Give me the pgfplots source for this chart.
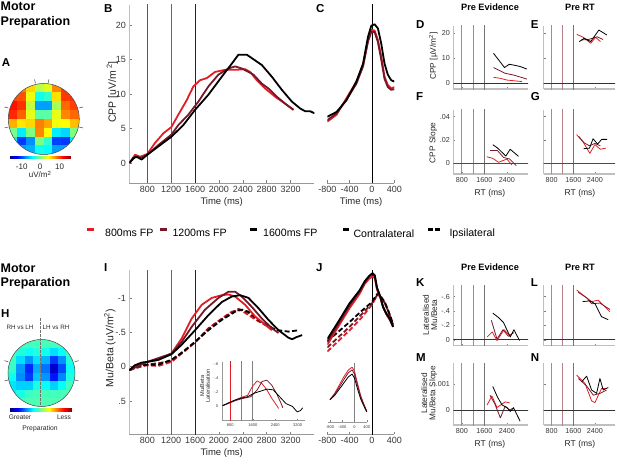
\documentclass[border=0pt]{standalone}
\usepackage{fontspec}
\setmainfont{Liberation Sans}
\usepackage{pgfplots}
\pgfplotsset{compat=1.18}
\definecolor{cR}{RGB}{226,30,36}
\definecolor{cM}{RGB}{118,24,42}
\definecolor{tk}{RGB}{55,55,55}
\newcommand{\fs}[1]{\fontsize{#1}{#1}\selectfont}
\pgfplotsset{
  mat/.style={scale only axis, anchor=north west, clip=true,
    axis x line*=bottom, axis y line*=left,
    axis line style={-, draw=black!40, line width=0.6pt},
    y axis line style={draw=black!25},
    tick style={draw=black!50, line width=0.5pt},
    tick align=inside, major tick length=2.5pt,
    /pgf/number format/assume math mode=true,
    /pgf/number format/1000 sep={},
    scaled ticks=false},
  big/.style={mat, tick label style={font=\fs{9}, text=tk}},
  small/.style={mat, tick label style={font=\fs{7.2}, text=tk},
    x axis line style={draw=black!25, line width=1.6pt},
    xmin=500, xmax=3150, xtick={800,1600,2400}, major tick length=2pt},
  tiny/.style={mat, tick label style={font=\fs{4}, text=tk}, major tick length=1.3pt,
    axis line style={-, draw=black!40, line width=0.4pt}},
  s/.style={line width=1.8pt, line join=round},
  d/.style={line width=1.8pt, line join=round, dash pattern=on 5pt off 2.5pt},
  t/.style={line width=0.8pt, line join=round},
  e8/.style={color=cR, line width=1.1pt},
  e12/.style={color=cM!75!white, line width=1.1pt},
  e16/.style={color=black!85, line width=0.9pt},
  f8/.style={color=cR!65!white, line width=0.9pt},
  f12/.style={color=cM!55!white, line width=0.9pt},
  f16/.style={color=black!55, line width=0.9pt},
  topo/.style={anchor=north west, scale only axis, hide axis,
    xmin=-1, xmax=1, ymin=-1, ymax=1, colormap/jet},
  cbar/.style={anchor=north west, scale only axis, hide axis, view={0}{90}, colormap/jet},
}
\begin{document}
\begin{tikzpicture}[x=1pt,y=1pt]
\path[use as bounding box] (0,0) rectangle (617,463);

% ---------- A topo ----------
\begin{axis}[topo, at={(8.3pt,379.5pt)}, width=71pt, height=71pt, point meta min=-16, point meta max=16]
\addplot[surf, shader=flat mean, mesh/cols=9, point meta=\thisrow{c}] table[row sep=\\] {
x y c\\
-1 1 6\\ -0.75 1 7\\ -0.5 1 7\\ -0.25 1 4\\ 0 1 3\\ 0.25 1 6\\ 0.5 1 9\\ 0.75 1 10\\ 1 1 10\\
-1 0.75 8\\ -0.75 0.75 9\\ -0.5 0.75 8\\ -0.25 0.75 2\\ 0 0.75 -2\\ 0.25 0.75 5\\ 0.5 0.75 11\\ 0.75 0.75 11\\ 1 0.75 10\\
-1 0.5 10\\ -0.75 0.5 12\\ -0.5 0.5 9\\ -0.25 0.5 -5\\ 0 0.5 -9\\ 0.25 0.5 -4\\ 0.5 0.5 8\\ 0.75 0.5 11\\ 1 0.5 10\\
-1 0.25 11\\ -0.75 0.25 13\\ -0.5 0.25 8\\ -0.25 0.25 -4\\ 0 0.25 -10\\ 0.25 0.25 -5\\ 0.5 0.25 6\\ 0.75 0.25 10\\ 1 0.25 9\\
-1 0 9\\ -0.75 0 10\\ -0.5 0 5\\ -0.25 0 4\\ 0 0 5\\ 0.25 0 5\\ 0.5 0 7\\ 0.75 0 8\\ 1 0 8\\
-1 -0.25 4\\ -0.75 -0.25 3\\ -0.5 -0.25 1\\ -0.25 -0.25 11\\ 0 -0.25 12\\ 0.25 -0.25 5\\ 0.5 -0.25 -2\\ 0.75 -0.25 3\\ 1 -0.25 5\\
-1 -0.5 0\\ -0.75 -0.5 -8\\ -0.5 -0.5 -14\\ -0.25 -0.5 2\\ 0 -0.5 6\\ 0.25 -0.5 -7\\ 0.5 -0.5 -14\\ 0.75 -0.5 -8\\ 1 -0.5 0\\
-1 -0.75 -3\\ -0.75 -0.75 -7\\ -0.5 -0.75 -12\\ -0.25 -0.75 -6\\ 0 -0.75 -2\\ 0.25 -0.75 -7\\ 0.5 -0.75 -12\\ 0.75 -0.75 -7\\ 1 -0.75 -3\\
-1 -1 -4\\ -0.75 -1 -4\\ -0.5 -1 -5\\ -0.25 -1 -3\\ 0 -1 -3\\ 0.25 -1 -4\\ 0.5 -1 -5\\ 0.75 -1 -4\\ 1 -1 -4\\
};
\end{axis}
\fill[white, even odd rule] (0,296) rectangle (95,392) (43.8,344) circle (35.5);
\draw[black!75, line width=0.5pt] (43.8,344) circle (35.5);
\draw[black!75, line width=0.5pt] (35.5,379.6) -- (34.5,383.5) (48,379.6) -- (49,383.5);
\draw[black!75, line width=0.5pt] (8.4,355) -- (4.5,356) (8.4,336) -- (4.5,335) (79.2,355) -- (83.1,356) (79.2,336) -- (83.1,335);
\begin{axis}[cbar, at={(9.3pt,307.3pt)}, width=61.7pt, height=3.3pt, xmin=-16, xmax=16, ymin=0, ymax=1, point meta min=-16, point meta max=16]
\addplot3[surf, shader=interp, mesh/cols=6] coordinates {(-16,0,-16) (-12,0,-12) (-4,0,-4) (4,0,4) (12,0,12) (16,0,16) (-16,1,-16) (-12,1,-12) (-4,1,-4) (4,1,4) (12,1,12) (16,1,16)};
\end{axis}
\node[font=\fs{8}, text=black!85] at (21.7,296.3) {-10};
\node[font=\fs{8}, text=black!85] at (40.2,296.3) {0};
\node[font=\fs{8}, text=black!85] at (59.5,296.3) {10};
\node[font=\fs{8}, text=black!85] at (40.2,288.5) {uV/m\textsuperscript{2}};

% ---------- H topo ----------
\begin{axis}[topo, at={(8pt,123.5pt)}, width=67pt, height=67pt, point meta min=-1, point meta max=1]
\addplot[surf, shader=flat mean, mesh/cols=9, point meta=\thisrow{c}] table[row sep=\\] {
x y c\\
-1 1 -0.1\\ -0.75 1 -0.1\\ -0.5 1 -0.1\\ -0.25 1 -0.1\\ 0 1 -0.1\\ 0.25 1 -0.1\\ 0.5 1 -0.1\\ 0.75 1 -0.1\\ 1 1 -0.1\\
-1 0.75 -0.1\\ -0.75 0.75 -0.1\\ -0.5 0.75 -0.12\\ -0.25 0.75 -0.15\\ 0 0.75 -0.1\\ 0.25 0.75 -0.15\\ 0.5 0.75 -0.15\\ 0.75 0.75 -0.1\\ 1 0.75 -0.1\\
-1 0.5 -0.1\\ -0.75 0.5 -0.15\\ -0.5 0.5 -0.35\\ -0.25 0.5 -0.3\\ 0 0.5 -0.15\\ 0.25 0.5 -0.45\\ 0.5 0.5 -0.5\\ 0.75 0.5 -0.2\\ 1 0.5 -0.1\\
-1 0.25 -0.1\\ -0.75 0.25 -0.15\\ -0.5 0.25 -0.62\\ -0.25 0.25 -0.55\\ 0 0.25 -0.2\\ 0.25 0.25 -0.78\\ 0.5 0.25 -0.82\\ 0.75 0.25 -0.35\\ 1 0.25 -0.1\\
-1 0 -0.15\\ -0.75 0 -0.2\\ -0.5 0 -0.82\\ -0.25 0 -0.7\\ 0 0 -0.2\\ 0.25 0 -0.92\\ 0.5 0 -0.88\\ 0.75 0 -0.35\\ 1 0 -0.1\\
-1 -0.25 -0.3\\ -0.75 -0.25 -0.25\\ -0.5 -0.25 -0.62\\ -0.25 -0.25 -0.4\\ 0 -0.25 -0.15\\ 0.25 -0.25 -0.55\\ 0.5 -0.25 -0.5\\ 0.75 -0.25 -0.2\\ 1 -0.25 -0.1\\
-1 -0.5 -0.35\\ -0.75 -0.5 -0.3\\ -0.5 -0.5 -0.2\\ -0.25 -0.5 -0.15\\ 0 -0.5 -0.1\\ 0.25 -0.5 -0.15\\ 0.5 -0.5 -0.15\\ 0.75 -0.5 -0.1\\ 1 -0.5 -0.1\\
-1 -0.75 -0.3\\ -0.75 -0.75 -0.2\\ -0.5 -0.75 -0.1\\ -0.25 -0.75 -0.1\\ 0 -0.75 -0.1\\ 0.25 -0.75 -0.1\\ 0.5 -0.75 -0.1\\ 0.75 -0.75 -0.1\\ 1 -0.75 -0.1\\
-1 -1 -0.2\\ -0.75 -1 -0.1\\ -0.5 -1 -0.1\\ -0.25 -1 -0.1\\ 0 -1 -0.1\\ 0.25 -1 -0.1\\ 0.5 -1 -0.1\\ 0.75 -1 -0.1\\ 1 -1 -0.1\\
};
\end{axis}
\fill[white, even odd rule] (0,56.2) rectangle (95,130) (41.5,90) circle (33.5);
\draw[black!75, line width=0.5pt] (41.5,90) circle (33.5);
\draw[black!75, line width=0.5pt] (8.2,101.3) -- (4.4,102.3) (8.2,83) -- (4.4,82) (74.8,101.3) -- (78.6,102.3) (74.8,83) -- (78.6,82);
\draw[black!55, line width=0.6pt, dash pattern=on 2.5pt off 1.5pt] (40.7,145) -- (40.7,57);
\node[font=\fs{6.3}, text=black!85] at (20,136) {RH vs LH};
\node[font=\fs{6.3}, text=black!85] at (56,136) {LH vs RH};
\begin{axis}[cbar, at={(10pt,55.5pt)}, width=61.7pt, height=3.5pt, xmin=-1, xmax=1, ymin=0, ymax=1, point meta min=-1, point meta max=1]
\addplot3[surf, shader=interp, mesh/cols=6] coordinates {(-1,0,-1) (-0.75,0,-0.75) (-0.25,0,-0.25) (0.25,0,0.25) (0.75,0,0.75) (1,0,1) (-1,1,-1) (-0.75,1,-0.75) (-0.25,1,-0.25) (0.25,1,0.25) (0.75,1,0.75) (1,1,1)};
\end{axis}
\node[font=\fs{6.6}, text=black!85] at (20,45.7) {Greater};
\node[font=\fs{6.6}, text=black!85] at (64,45.7) {Less};
\node[font=\fs{6.8}, text=black!85] at (40,34.7) {Preparation};

% ---------- headings ----------
\node[anchor=west, inner sep=0, font=\bfseries\fs{12.5}] at (0.5,457) {Motor};
\node[anchor=west, inner sep=0, font=\bfseries\fs{12.5}] at (0.5,440.3) {Preparation};
\node[anchor=west, inner sep=0, font=\bfseries\fs{12.5}] at (0.5,194.7) {Motor};
\node[anchor=west, inner sep=0, font=\bfseries\fs{12.5}] at (0.5,179.5) {Preparation};
\foreach \l/\x/\y in {A/1.7/400, B/104/454.7, C/316/454.7, D/416/438, E/530.7/438, F/416/366.3, G/530.7/366.3, H/1/149.7, I/104/195, J/316/195, K/416/180, L/530.7/180, M/416/105.3, N/530.7/105.3}
  \node[anchor=west, inner sep=0, font=\bfseries\fs{11.5}] at (\x,\y) {\l};
\node[font=\bfseries\fs{9.2}] at (490,455.7) {Pre Evidence};
\node[font=\bfseries\fs{9.2}] at (580,455.7) {Pre RT};
\node[font=\bfseries\fs{9.2}] at (490,196) {Pre Evidence};
\node[font=\bfseries\fs{9.2}] at (580,196) {Pre RT};

% ---------- legend ----------
\draw[cR, line width=2.6pt] (87,233.5) -- (94,233.5);
\node[anchor=west, inner sep=0, font=\fs{10.6}] at (105,229.7) {800ms FP};
\draw[cM, line width=2.6pt] (160,233.5) -- (166.7,233.5);
\node[anchor=west, inner sep=0, font=\fs{10.6}] at (172.3,229.7) {1200ms FP};
\draw[black, line width=2.6pt] (250,233.5) -- (256.7,233.5);
\node[anchor=west, inner sep=0, font=\fs{10.6}] at (263,229.7) {1600ms FP};
\draw[black, line width=2.6pt] (343.3,233.5) -- (349.3,233.5);
\node[anchor=west, inner sep=0, font=\fs{10.6}] at (353.3,229.7) {Contralateral};
\draw[black, line width=2.6pt] (428.3,233.5) -- (433,233.5) (435.3,233.5) -- (440,233.5);
\node[anchor=west, inner sep=0, font=\fs{10.6}] at (449.3,229.7) {Ipsilateral};

% ---------- axis labels ----------
\node[rotate=90, font=\fs{10.5}, text=black!85] at (112.5,371) {CPP [uV/m\textsuperscript{ 2}]};
\node[font=\fs{9.5}, text=black!85] at (221.7,260.7) {Time (ms)};
\node[font=\fs{9.5}, text=black!85] at (361,260.7) {Time (ms)};
\node[rotate=90, font=\fs{8.3}, text=black!85] at (433.3,407) {CPP [µV/m\textsuperscript{2}]};
\node[rotate=90, font=\fs{8.3}, text=black!85] at (433.3,320) {CPP Slope};
\node[font=\fs{8.5}, text=black!85] at (490,269.7) {RT (ms)};
\node[font=\fs{8.5}, text=black!85] at (580,269.7) {RT (ms)};
\node[rotate=90, font=\fs{10.5}, text=black!85] at (110,115) {Mu/Beta (uV/m\textsuperscript{2})};
\node[font=\fs{9.5}, text=black!85] at (221.7,9.7) {Time (ms)};
\node[rotate=90, font=\fs{5.6}, align=center, text=black!85] at (205,77) {Mu/Beta\\Lateralisation};
\node[rotate=90, font=\fs{8.3}, align=center, text=black!85] at (430,148) {Lateralised\\Mu/Beta};
\node[rotate=90, font=\fs{8.3}, align=center, text=black!85] at (429,69.7) {Lateralised\\Mu/Beta Slope};
\node[font=\fs{8.5}, text=black!85] at (490,18.7) {RT (ms)};
\node[font=\fs{8.5}, text=black!85] at (580,18.7) {RT (ms)};

% ---------- B ----------
\begin{axis}[big, at={(129.4pt,458pt)}, width=185pt, height=178pt, xmin=500, xmax=3600, ymin=-2.9, ymax=22.9, xtick={800,1200,1600,2000,2400,2800,3200}, ytick={0,5,10,15,20}]
\addplot[e8] coordinates {(800,-5) (800,25)};
\addplot[e12] coordinates {(1200,-5) (1200,25)};
\addplot[e16] coordinates {(1600,-5) (1600,25)};
\addplot[s, cR] coordinates {(500,0) (595,1.2) (679,0.9) (800,1.3) (929,2.9) (1069,4.3) (1203,5.2) (1320,7.0) (1460,9.1) (1572,11.1) (1684,12.0) (1796,12.3) (1936,13.2) (2104,13.5) (2272,13.5) (2439,13.6) (2523,13.2) (2635,12.0) (2775,10.8) (2943,9.6) (3110,8.6) (3250,7.7)};
\addplot[s, cM] coordinates {(500,0) (595,0.9) (705,0.8) (800,1.2) (985,2.6) (1203,4.1) (1320,5.5) (1488,7.0) (1656,8.9) (1824,11.1) (1991,12.8) (2160,13.7) (2272,14.0) (2383,13.7) (2495,13.2) (2579,12.8) (2719,11.5) (2831,10.8) (2971,9.6) (3110,8.6) (3250,7.7)};
\addplot[s, black] coordinates {(500,0) (567,0.7) (621,0.9) (705,0.5) (800,1.2) (985,2.4) (1203,3.8) (1404,5.5) (1600,7.7) (1824,9.9) (2048,12.5) (2216,14.4) (2327,15.7) (2467,15.7) (2551,15.2) (2719,14.2) (2887,12.5) (3055,10.6) (3222,8.9) (3362,7.9) (3446,7.5) (3530,7.5) (3600,7.2)};
\end{axis}

% ---------- C ----------
\begin{axis}[big, at={(327.3pt,458pt)}, width=67pt, height=178pt, xmin=-800, xmax=400, ymin=-2.9, ymax=22.9, axis y line=none, xtick={-800,-400,0,400}]
\addplot[color=black, line width=0.9pt] coordinates {(0,-5) (0,25)};
\addplot[s, cR] coordinates {(-800,6.0) (-634,7.0) (-456,9.4) (-279,11.8) (-160,14.2) (-71,17.8) (-12,19.3) (47,19.2) (107,17.8) (166,15.4) (225,12.5) (284,11.3) (344,10.8) (400,11.0)};
\addplot[s, cM] coordinates {(-800,6.2) (-634,7.2) (-456,9.2) (-279,11.5) (-160,14.0) (-71,17.6) (-12,19.0) (47,19.0) (107,17.5) (166,15.0) (225,12.2) (284,11.0) (344,10.6) (400,10.7)};
\addplot[s, black] coordinates {(-800,6.7) (-634,7.4) (-456,9.1) (-279,11.8) (-160,14.4) (-71,18.3) (-12,19.9) (47,20.1) (107,19.5) (166,17.3) (225,14.4) (284,12.8) (344,12.0) (400,11.8)};
\end{axis}

% ---------- D ----------
\begin{axis}[small, at={(453.3pt,437.2pt)}, width=74.7pt, height=63.5pt, ymin=-2.4, ymax=23, ytick={0,10,20}, xticklabels={}]
\addplot[f8] coordinates {(800,-5) (800,30)};
\addplot[f12] coordinates {(1200,-5) (1200,30)};
\addplot[f16] coordinates {(1600,-5) (1600,30)};
\addplot[color=black!80, line width=0.9pt] coordinates {(400,0) (3300,0)};
\addplot[t, cR] coordinates {(1926,2.4) (2163,2.0) (2400,1.3) (2578,1.1) (2933,0.7)};
\addplot[t, cM] coordinates {(1926,6.3) (2340,4.0) (2637,3.3) (3111,1.7)};
\addplot[t, black] coordinates {(1926,12.0) (2317,6.3) (2483,7.6) (2637,7.3) (2874,6.7) (3111,5.7)};
\end{axis}

% ---------- E ----------
\begin{axis}[small, at={(543.6pt,437.2pt)}, width=71.6pt, height=63.5pt, ymin=-2.4, ymax=23, ytick={0,10,20}, yticklabels={}, xticklabels={}]
\addplot[f8] coordinates {(800,-5) (800,30)};
\addplot[f12] coordinates {(1200,-5) (1200,30)};
\addplot[f16] coordinates {(1600,-5) (1600,30)};
\addplot[color=black!80, line width=0.9pt] coordinates {(400,0) (3300,0)};
\addplot[t, cR] coordinates {(1726,19.6) (1967,18.4) (2244,16.0) (2424,18.4) (2604,16.7)};
\addplot[t, cM] coordinates {(1883,17.3) (2183,17.6) (2484,18.6) (2700,17.5)};
\addplot[t, black] coordinates {(1823,16.7) (2003,18.0) (2244,16.7) (2544,21.3) (2845,19.3)};
\end{axis}

% ---------- F ----------
\begin{axis}[small, at={(453.3pt,353pt)}, width=74.7pt, height=64pt, ymin=-0.0092, ymax=0.0457, ytick={0,0.02,0.04}, yticklabels={0,.02,.04}]
\addplot[f8] coordinates {(800,-1) (800,1)};
\addplot[f12] coordinates {(1200,-1) (1200,1)};
\addplot[f16] coordinates {(1600,-1) (1600,1)};
\addplot[color=black!70, line width=1.2pt] coordinates {(400,0) (3300,0)};
\addplot[t, cR] coordinates {(1689,0.0056) (1902,0.0042) (2104,0.0008) (2400,0.0036) (2578,-0.0014)};
\addplot[t, cM] coordinates {(1807,0.0109) (2068,0.0109) (2281,0.0050) (2500,0.0036) (2732,-0.0020)};
\addplot[t, black] coordinates {(1902,0.0159) (2068,0.0131) (2364,0.0062) (2518,0.0120) (2815,0.0059)};
\end{axis}

% ---------- G ----------
\begin{axis}[small, at={(543.6pt,353pt)}, width=71.6pt, height=64pt, ymin=-0.0092, ymax=0.0457, ytick={0,0.02,0.04}, yticklabels={}]
\addplot[f8] coordinates {(800,-1) (800,1)};
\addplot[f12] coordinates {(1200,-1) (1200,1)};
\addplot[f16] coordinates {(1600,-1) (1600,1)};
\addplot[color=black!70, line width=1.2pt] coordinates {(400,0) (3300,0)};
\addplot[t, cR] coordinates {(1720,0.0246) (1970,0.0180) (2210,0.0085) (2400,0.0160) (2600,0.0120) (2800,0.0130)};
\addplot[t, cM] coordinates {(1800,0.0230) (2000,0.0175) (2200,0.0150) (2400,0.0170) (2600,0.0150)};
\addplot[t, black] coordinates {(1980,0.0125) (2200,0.0130) (2330,0.0210) (2500,0.0165) (2650,0.0205) (2850,0.0205)};
\end{axis}

% ---------- I ----------
\begin{axis}[big, at={(129.4pt,192.6pt)}, width=185pt, height=163.7pt, xmin=500, xmax=3600, y dir=reverse, ymin=-1.4, ymax=0.98, ytick={-1,-0.5,0,0.5}, yticklabels={-1,-.5,0,.5}, xtick={800,1200,1600,2000,2400,2800,3200}]
\addplot[e8] coordinates {(800,-2) (800,2)};
\addplot[e12] coordinates {(1200,-2) (1200,2)};
\addplot[e16] coordinates {(1600,-2) (1600,2)};
\addplot[d, cR] coordinates {(500,0.05) (649,0.0) (800,-0.02) (985,-0.01) (1203,-0.07) (1404,-0.21) (1600,-0.35) (1824,-0.56) (2048,-0.70) (2216,-0.80) (2355,-0.83) (2495,-0.75) (2663,-0.66) (2831,-0.58)};
\addplot[d, cM] coordinates {(500,0.05) (800,-0.03) (1203,-0.08) (1600,-0.36) (1824,-0.55) (2104,-0.73) (2327,-0.84) (2495,-0.78) (2663,-0.67) (2887,-0.57)};
\addplot[d, black] coordinates {(500,0.05) (649,-0.02) (800,-0.03) (985,-0.03) (1203,-0.10) (1404,-0.22) (1600,-0.36) (1824,-0.53) (2048,-0.68) (2272,-0.80) (2383,-0.83) (2495,-0.80) (2663,-0.68) (2831,-0.58) (2999,-0.53) (3167,-0.51) (3334,-0.53)};
\addplot[s, cR] coordinates {(500,0.05) (593,-0.02) (800,-0.07) (985,-0.10) (1203,-0.19) (1376,-0.41) (1544,-0.70) (1712,-0.90) (1880,-1.00) (2048,-1.04) (2160,-1.05) (2272,-1.02) (2439,-0.90) (2607,-0.73) (2775,-0.61) (2887,-0.53)};
\addplot[s, cM] coordinates {(500,0.05) (800,-0.07) (1203,-0.19) (1376,-0.36) (1544,-0.58) (1768,-0.83) (1992,-1.00) (2160,-1.09) (2272,-1.09) (2383,-1.02) (2551,-0.87) (2719,-0.70) (2887,-0.56) (2999,-0.49)};
\addplot[s, black] coordinates {(500,0.05) (593,-0.02) (705,-0.06) (800,-0.07) (985,-0.10) (1203,-0.18) (1376,-0.32) (1600,-0.53) (1824,-0.75) (2048,-0.94) (2216,-1.02) (2355,-1.04) (2495,-1.00) (2663,-0.85) (2831,-0.68) (2999,-0.53) (3167,-0.42) (3227,-0.40) (3300,-0.43) (3395,-0.46)};
\end{axis}

% ---------- I inset ----------
\begin{axis}[tiny, at={(221.9pt,101.5pt)}, width=82.8pt, height=58.7pt, xmin=500, xmax=3450, y dir=reverse, ymin=-0.64, ymax=0.21, xtick={800,1600,2400,3200}, ytick={-0.6,-0.4,-0.2,0}, yticklabels={-.6,-.4,-.2,0}]
\addplot[color=cR, line width=0.6pt] coordinates {(800,-1) (800,1)};
\addplot[color=black!50, line width=0.6pt] coordinates {(1200,-1) (1200,1)};
\addplot[color=black!50, line width=0.6pt] coordinates {(1600,-1) (1600,1)};
\addplot[t, cR] coordinates {(526,0) (732,-0.04) (960,-0.08) (1188,-0.12) (1416,-0.15) (1587,-0.28) (1758,-0.36) (1929,-0.32) (2100,-0.23) (2271,-0.11) (2442,-0.01) (2520,0.04)};
\addplot[t, cM] coordinates {(526,0) (960,-0.07) (1188,-0.10) (1530,-0.13) (1758,-0.23) (1929,-0.35) (2100,-0.37) (2271,-0.30) (2442,-0.18) (2613,-0.03) (2670,0.03)};
\addplot[t, black] coordinates {(526,0) (732,-0.04) (960,-0.08) (1188,-0.11) (1416,-0.13) (1644,-0.18) (1872,-0.21) (2100,-0.24) (2328,-0.23) (2556,-0.13) (2784,-0.03) (3012,0.01) (3183,0.09) (3300,0.07) (3380,0.03)};
\end{axis}

% ---------- J ----------
\begin{axis}[big, at={(327.3pt,192.6pt)}, width=67pt, height=163.7pt, xmin=-800, xmax=400, y dir=reverse, ymin=-1.4, ymax=0.98, axis y line=none, xtick={-800,-400,0,400}]
\addplot[color=black, line width=0.9pt] coordinates {(0,-2) (0,2)};
\addplot[d, cR] coordinates {(-800,-0.22) (-400,-0.53) (-200,-0.70) (0,-0.90) (60,-0.99) (108,-1.06) (160,-1.00) (229,-0.92) (300,-0.78) (379,-0.60)};
\addplot[d, cM] coordinates {(-800,-0.28) (-400,-0.58) (-200,-0.75) (0,-0.92) (108,-1.06) (229,-0.93) (300,-0.79) (379,-0.61)};
\addplot[d, black] coordinates {(-800,-0.37) (-400,-0.65) (-200,-0.80) (0,-0.94) (60,-1.02) (108,-1.07) (160,-1.02) (229,-0.94) (300,-0.80) (379,-0.62)};
\addplot[s, cR] coordinates {(-800,-0.32) (-583,-0.61) (-403,-0.85) (-222,-1.06) (-132,-1.20) (-50,-1.28) (10,-1.31) (50,-1.29) (90,-1.12) (150,-1.00) (198,-0.87) (260,-0.76) (319,-0.68) (379,-0.58)};
\addplot[s, cM] coordinates {(-800,-0.36) (-583,-0.65) (-403,-0.89) (-222,-1.09) (-132,-1.22) (-50,-1.31) (10,-1.35) (50,-1.32) (90,-1.14) (150,-1.01) (198,-0.87) (260,-0.76) (319,-0.69) (379,-0.58)};
\addplot[s, black] coordinates {(-800,-0.40) (-583,-0.68) (-403,-0.92) (-222,-1.11) (-132,-1.24) (-50,-1.32) (10,-1.36) (50,-1.33) (90,-1.15) (150,-1.02) (198,-0.87) (260,-0.77) (319,-0.70) (379,-0.58)};
\end{axis}

% ---------- J inset ----------
\begin{axis}[tiny, at={(327.9pt,100pt)}, width=39.2pt, height=58.7pt, xmin=-870, xmax=410, y dir=reverse, ymin=-0.62, ymax=0.23, axis y line=none, xtick={-800,-400,0,400}]
\addplot[color=black!50, line width=0.6pt] coordinates {(0,-1) (0,1)};
\addplot[t, cR] coordinates {(-800,-0.09) (-650,-0.18) (-500,-0.30) (-350,-0.42) (-200,-0.52) (-80,-0.56) (0,-0.50) (100,-0.32) (200,-0.15) (300,-0.03) (400,0.08)};
\addplot[t, cM] coordinates {(-800,-0.09) (-650,-0.17) (-500,-0.27) (-350,-0.38) (-200,-0.48) (-80,-0.52) (0,-0.46) (100,-0.29) (200,-0.13) (300,-0.02) (400,0.08)};
\addplot[t, black] coordinates {(-800,-0.09) (-650,-0.15) (-500,-0.24) (-350,-0.33) (-200,-0.42) (-80,-0.46) (0,-0.40) (100,-0.24) (200,-0.10) (300,0.0) (400,0.09)};
\end{axis}

% ---------- K ----------
\begin{axis}[small, at={(453.3pt,178pt)}, width=74.7pt, height=60.6pt, y dir=reverse, ymin=-0.76, ymax=0.08, ytick={-0.6,-0.4,-0.2,0}, yticklabels={-.6,-.4,-.2,0}, xticklabels={}]
\addplot[f8] coordinates {(800,-1) (800,1)};
\addplot[f12] coordinates {(1200,-1) (1200,1)};
\addplot[f16] coordinates {(1600,-1) (1600,1)};
\addplot[color=black!80, line width=0.9pt] coordinates {(400,0) (3300,0)};
\addplot[t, cR] coordinates {(1700,-0.04) (1880,-0.11) (2050,0.01) (2300,-0.14) (2500,-0.06)};
\addplot[t, cM] coordinates {(1850,-0.27) (2050,-0.01) (2260,-0.14) (2450,-0.05) (2650,-0.10)};
\addplot[t, black] coordinates {(1900,-0.37) (2100,-0.31) (2280,-0.24) (2400,-0.14) (2520,-0.04) (2650,-0.14) (2850,0.01)};
\end{axis}

% ---------- L ----------
\begin{axis}[small, at={(543.6pt,178pt)}, width=71.6pt, height=60.6pt, y dir=reverse, ymin=-0.76, ymax=0.08, ytick={-0.6,-0.4,-0.2,0}, yticklabels={}, xticklabels={}]
\addplot[f8] coordinates {(800,-1) (800,1)};
\addplot[f12] coordinates {(1200,-1) (1200,1)};
\addplot[f16] coordinates {(1600,-1) (1600,1)};
\addplot[color=black!80, line width=0.9pt] coordinates {(400,0) (3300,0)};
\addplot[t, cR] coordinates {(1723,-0.69) (2030,-0.60) (2276,-0.53) (2520,-0.55) (2950,-0.39)};
\addplot[t, cM] coordinates {(1780,-0.66) (2100,-0.58) (2276,-0.50) (2584,-0.51) (2953,-0.42)};
\addplot[t, black] coordinates {(1944,-0.53) (2215,-0.54) (2400,-0.50) (2645,-0.32) (2890,-0.28)};
\end{axis}

% ---------- M ----------
\begin{axis}[small, at={(453.3pt,99.7pt)}, width=74.7pt, height=61.7pt, y dir=reverse, ymin=-0.00182, ymax=0.00058, ytick={-0.001,0}, yticklabels={-.001,0}]
\addplot[f8] coordinates {(800,-0.01) (800,0.01)};
\addplot[f12] coordinates {(1200,-0.01) (1200,0.01)};
\addplot[f16] coordinates {(1600,-0.01) (1600,0.01)};
\addplot[color=black!80, line width=0.9pt] coordinates {(400,0) (3300,0)};
\addplot[t, cR] coordinates {(1700,-0.0002) (1870,-0.00055) (2050,-0.0001) (2340,-0.00032) (2500,-0.00028)};
\addplot[t, cM] coordinates {(1800,-0.00058) (1970,-0.00025) (2170,0.0003) (2340,-0.00015) (2500,0.0) (2650,-0.0001)};
\addplot[t, black] coordinates {(1900,-0.00092) (2070,-0.0005) (2230,-0.0002) (2400,-0.0001) (2520,0.00005) (2640,-0.00008) (2870,0.00043)};
\end{axis}

% ---------- N ----------
\begin{axis}[small, at={(543.6pt,99.7pt)}, width=71.6pt, height=61.7pt, y dir=reverse, ymin=-0.00182, ymax=0.00058, ytick={-0.001,0}, yticklabels={}]
\addplot[f8] coordinates {(800,-0.01) (800,0.01)};
\addplot[f12] coordinates {(1200,-0.01) (1200,0.01)};
\addplot[f16] coordinates {(1600,-0.01) (1600,0.01)};
\addplot[color=black!80, line width=0.9pt] coordinates {(400,0) (3300,0)};
\addplot[t, cR] coordinates {(1723,-0.00136) (2030,-0.00104) (2276,-0.00036) (2399,-0.00029) (2645,-0.00084) (2830,-0.00084)};
\addplot[t, cM] coordinates {(1784,-0.00123) (2092,-0.00094) (2338,-0.00058) (2584,-0.00065) (2830,-0.00078)};
\addplot[t, black] coordinates {(1908,-0.0011) (2092,-0.00132) (2276,-0.00078) (2461,-0.00065) (2584,-0.00123) (2707,-0.00078) (2892,-0.00088)};
\end{axis}
\end{tikzpicture}
\end{document}
